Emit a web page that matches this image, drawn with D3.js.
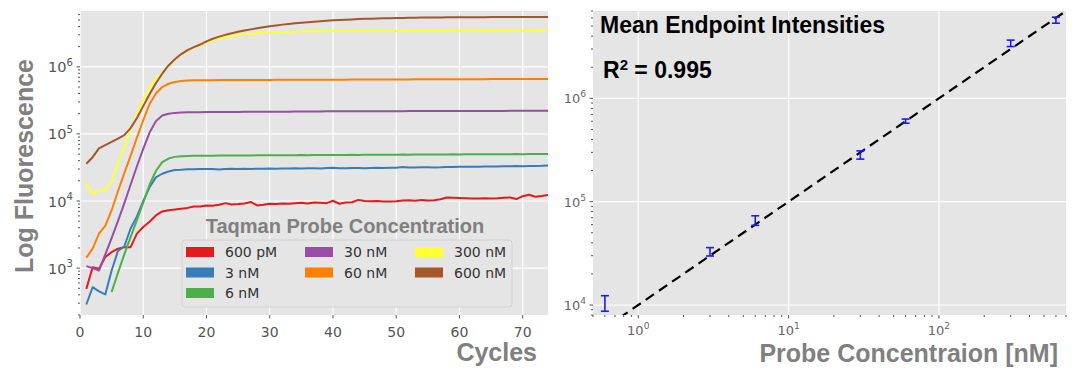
<!DOCTYPE html>
<html>
<head>
<meta charset="utf-8">
<script src="https://cdnjs.cloudflare.com/ajax/libs/d3/7.8.5/d3.min.js"></script>
<style>
  body { margin: 0; background: #fff; }
  svg text { font-family: "DejaVu Sans", sans-serif; }
  .bold { font-family: "Liberation Sans", Arial, sans-serif !important; font-weight: bold; }
  .grid line { stroke: #fff; stroke-width: 1.2; }
  .tick-mark { stroke: #555; stroke-width: 1; }
</style>
</head>
<body>
<svg id="vis" width="1072" height="368"></svg>
<script>
// ---- left panel: amplification curves ----
const cycles = d3.range(1, 75);
const seriesNames = ["600 pM", "3 nM", "6 nM", "30 nM", "60 nM", "300 nM", "600 nM"];
const seriesColors = ["#e41a1c", "#377eb8", "#4daf4a", "#984ea3", "#ff7f00", "#ffff33", "#a65628"];

const probe600pM = [490,1030,980,1460,1730,1950,2050,2050,3260,4100,
  4900,6100,7000,7300,7500,7700,7900,8300,8300,8600,
  8500,8800,9300,8900,9000,9200,9700,8600,8800,9100,
  9000,9200,9100,9300,9400,9200,9500,9400,9300,10100,
  9100,9500,9600,10400,10000,9900,10000,9800,9800,9900,
  10200,10300,10100,10400,10200,10300,10600,11300,11200,11100,
  11000,10900,10900,11000,10900,11000,11200,11300,10700,11800,
  12400,11600,11900,12300];
const probe3nM = [287,520,450,405,920,1800,2100,3900,5900,10000,
  16000,22500,25500,27500,29000,29300,29800,29700,30000,30000,
  30100,29600,30000,30200,30000,30300,30100,30400,30200,30500,
  30400,30600,30500,30700,30600,30800,30700,30600,31000,31200,
  30800,30700,31000,31100,30900,31000,31200,31100,31300,31400,
  32200,31600,31700,31800,31900,31700,31800,32100,32200,32300,
  32400,32300,32500,32600,32800,32700,32900,33000,33200,33100,
  33300,33400,33500,33800];
const probe6nM = [null,null,null,null,440,850,1600,2900,5200,9500,
  17500,28000,38000,43000,45500,46500,47000,47200,47300,47500,
  47400,47600,47700,47600,47800,47900,47800,48000,48100,48000,
  48200,48100,48300,48200,48400,48300,48500,48400,48600,48500,
  48700,48600,48800,48700,48900,48800,49000,48900,49100,49000,
  49200,49100,49300,49200,49400,49300,49500,49400,49600,49500,
  49700,49600,49800,49700,49900,49800,50000,49900,50100,50000,
  50200,50100,50300,50200];
const probe30nM = [1070,1000,920,1600,2800,5000,9200,17500,33000,60000,
  105000,155000,188000,200000,206000,209000,210000,211000,211000,212000,
  212000,212000,213000,213000,213000,214000,214000,214000,214000,215000,
  215000,215000,215000,216000,216000,216000,216000,216000,217000,217000,
  217000,217000,217000,217000,218000,218000,218000,218000,218000,218000,
  218000,219000,219000,219000,219000,219000,219000,219000,219000,220000,
  220000,220000,220000,220000,220000,220000,220000,221000,221000,221000,
  221000,221000,221000,221000];
const probe60nM = [1430,1950,3260,4300,7300,14000,26000,47000,88000,160000,
  280000,400000,500000,560000,595000,615000,625000,630000,632000,633000,
  634000,635000,636000,636000,637000,637000,638000,638000,639000,639000,
  640000,640000,641000,641000,642000,642000,643000,643000,644000,644000,
  645000,645000,646000,646000,647000,647000,648000,648000,649000,649000,
  650000,650000,651000,651000,652000,652000,653000,653000,654000,654000,
  655000,655000,656000,656000,657000,657000,658000,658000,659000,659000,
  660000,660000,661000,661000];
const probe300nM = [18000,12900,14100,14800,19500,36000,63000,115000,195000,320000,
  490000,660000,800000,1040000,1290000,1530000,1760000,1950000,2120000,2300000,
  2500000,2650000,2780000,2880000,2970000,3050000,3120000,3180000,3230000,3270000,
  3300000,3320000,3340000,3360000,3370000,3380000,3390000,3400000,3400000,3410000,
  3410000,3410000,3420000,3420000,3420000,3420000,3430000,3430000,3430000,3430000,
  3430000,3440000,3440000,3440000,3440000,3440000,3440000,3450000,3450000,3450000,
  3450000,3450000,3450000,3450000,3450000,3460000,3460000,3460000,3460000,3460000,
  3460000,3460000,3460000,3460000];
const probe600nM = [36000,45000,61000,68000,76000,85000,96000,122000,173000,260000,
  390000,570000,790000,1050000,1300000,1550000,1780000,1970000,2150000,2400000,
  2620000,2820000,3000000,3170000,3330000,3480000,3620000,3760000,3900000,4030000,
  4150000,4260000,4360000,4460000,4550000,4630000,4710000,4790000,4860000,4930000,
  4990000,5050000,5100000,5150000,5200000,5230000,5260000,5290000,5320000,5350000,
  5370000,5390000,5410000,5430000,5440000,5450000,5460000,5470000,5480000,5490000,
  5500000,5500000,5510000,5510000,5520000,5520000,5520000,5530000,5530000,5530000,
  5530000,5540000,5540000,5540000];
const curves = [probe600pM, probe3nM, probe6nM, probe30nM, probe60nM, probe300nM, probe600nM];

const cycleTicks = [0, 10, 20, 30, 40, 50, 60, 70];
const fluorTicks = [1e3, 1e4, 1e5, 1e6];

// ---- right panel: endpoint intensities ----
const probeConc = [0.6, 3, 6, 30, 60, 300, 600];
const endpointMean = [10300, 32700, 65700, 283000, 600000, 3400000, 5700000];
const endpointLow = [8700, 29800, 59000, 258000, 574000, 3170000, 5330000];
const endpointHigh = [12300, 35900, 73000, 310000, 630000, 3660000, 6100000];
const fitCoef = [1.0e4, 1.0];   // y = a * x^b
const rSquared = "0.995";
const concTicks = [1, 10, 100];
const endTicks = [1e4, 1e5, 1e6];

function drawChart() {
  const svg = d3.select("svg#vis");
  const L = { x0: 80, x1: 548, y0: 11, y1: 315 };
  const R = { x0: 593, x1: 1066, y0: 11, y1: 315 };

  // minor log ticks between two limits
  function minorTicks(lo, hi) {
    const out = [];
    for (let e = Math.floor(Math.log10(lo)); e <= Math.ceil(Math.log10(hi)); e++) {
      for (let m = 2; m <= 9; m++) {
        const v = m * Math.pow(10, e);
        if (v >= lo && v <= hi) out.push(v);
      }
    }
    return out;
  }

  function powLabel(sel, exp, size) {
    sel.append("tspan").text("10");
    sel.append("tspan").text(exp).attr("dy", -size * 0.45).attr("font-size", size * 0.7);
  }

  // ===== left panel =====
  const x = d3.scaleLinear().domain([0, 74]).range([L.x0, L.x1]);
  const y = d3.scaleLog().domain([200, 6.8e6]).range([L.y1, L.y0]);

  const gl = svg.append("g");
  gl.append("rect").attr("x", L.x0).attr("y", L.y0)
    .attr("width", L.x1 - L.x0).attr("height", L.y1 - L.y0).attr("fill", "#e5e5e5");

  const gridL = gl.append("g").attr("class", "grid");
  gridL.selectAll("line.v").data(cycleTicks).enter().append("line")
    .attr("x1", d => x(d)).attr("x2", d => x(d)).attr("y1", L.y0).attr("y2", L.y1);
  gridL.selectAll("line.h").data(fluorTicks).enter().append("line")
    .attr("class", "h")
    .attr("x1", L.x0).attr("x2", L.x1).attr("y1", d => y(d)).attr("y2", d => y(d));

  svg.append("clipPath").attr("id", "clipL").append("rect")
    .attr("x", L.x0).attr("y", L.y0).attr("width", L.x1 - L.x0).attr("height", L.y1 - L.y0);

  const line = d3.line()
    .defined(d => d[1] != null)
    .x(d => x(d[0]))
    .y(d => y(d[1]));

  gl.append("g").attr("clip-path", "url(#clipL)")
    .selectAll("path.curve")
    .data(curves)
    .enter()
    .append("path")
    .attr("class", "curve")
    .attr("d", vals => line(cycles.map((c, i) => [c, vals[i]])))
    .attr("fill", "none")
    .attr("stroke", (d, i) => seriesColors[i])
    .attr("stroke-width", 2)
    .attr("stroke-linejoin", "round");

  // ticks
  gl.selectAll("line.xt").data(cycleTicks).enter().append("line")
    .attr("class", "tick-mark")
    .attr("x1", d => x(d)).attr("x2", d => x(d)).attr("y1", L.y1).attr("y2", L.y1 + 3.5);
  gl.selectAll("text.xt").data(cycleTicks).enter().append("text")
    .attr("x", d => x(d)).attr("y", 337).attr("text-anchor", "middle")
    .attr("font-size", 14).attr("fill", "#555").text(d => d);

  gl.selectAll("line.yt").data(fluorTicks).enter().append("line")
    .attr("class", "tick-mark")
    .attr("x1", L.x0 - 3.5).attr("x2", L.x0).attr("y1", d => y(d)).attr("y2", d => y(d));
  gl.selectAll("line.ym").data(minorTicks(200, 6.8e6)).enter().append("line")
    .attr("class", "tick-mark")
    .attr("x1", L.x0 - 2).attr("x2", L.x0).attr("y1", d => y(d)).attr("y2", d => y(d));
  gl.selectAll("text.yt").data(fluorTicks).enter().append("text")
    .attr("x", L.x0 - 7).attr("y", d => y(d) + 5.5).attr("text-anchor", "end")
    .attr("font-size", 14.5).attr("fill", "#555")
    .each(function(d) { powLabel(d3.select(this), Math.log10(d), 14.5); });

  gl.append("text").attr("class", "bold")
    .attr("transform", "translate(33,166) rotate(-90)")
    .attr("text-anchor", "middle").attr("font-size", 25).attr("fill", "#808080")
    .text("Log Fluorescence");
  gl.append("text").attr("class", "bold")
    .attr("x", 537).attr("y", 361).attr("text-anchor", "end")
    .attr("font-size", 25).attr("fill", "#808080").text("Cycles");

  // legend
  const lg = gl.append("g");
  lg.append("text").attr("class", "bold")
    .attr("x", 345).attr("y", 233).attr("text-anchor", "middle")
    .attr("font-size", 20).attr("fill", "#808080").text("Taqman Probe Concentration");
  lg.append("rect").attr("x", 182).attr("y", 240).attr("width", 330).attr("height", 67)
    .attr("rx", 3).attr("fill", "#e5e5e5").attr("stroke", "#d2d2d2");
  const colX = [186, 305, 415];
  const rowY = [252, 272.5, 293];
  const items = lg.selectAll("g.item").data(seriesNames).enter().append("g")
    .attr("transform", (d, i) => {
      const col = i < 3 ? 0 : (i < 5 ? 1 : 2);
      const row = i < 3 ? i : (i < 5 ? i - 3 : i - 5);
      return translate(colX[col], rowY[row]);
    });
  items.append("rect").attr("x", 0).attr("y", -5).attr("width", 28).attr("height", 10)
    .attr("fill", (d, i) => seriesColors[i]);
  items.append("text").attr("x", 39).attr("y", 5)
    .attr("font-size", 14).attr("fill", "#333").text(d => d);

  // ===== right panel =====
  const xr = d3.scaleLog().domain([0.5, 700]).range([R.x0, R.x1]);
  const yr = d3.scaleLog().domain([8e3, 7e6]).range([R.y1, R.y0]);

  const gr = svg.append("g");
  gr.append("rect").attr("x", R.x0).attr("y", R.y0)
    .attr("width", R.x1 - R.x0).attr("height", R.y1 - R.y0).attr("fill", "#e5e5e5");

  const gridR = gr.append("g").attr("class", "grid");
  gridR.selectAll("line.v").data(concTicks).enter().append("line")
    .attr("x1", d => xr(d)).attr("x2", d => xr(d)).attr("y1", R.y0).attr("y2", R.y1);
  gridR.selectAll("line.h").data(endTicks).enter().append("line")
    .attr("class", "h")
    .attr("x1", R.x0).attr("x2", R.x1).attr("y1", d => yr(d)).attr("y2", d => yr(d));

  svg.append("clipPath").attr("id", "clipR").append("rect")
    .attr("x", R.x0).attr("y", R.y0).attr("width", R.x1 - R.x0).attr("height", R.y1 - R.y0);

  // fitted power law
  const fitX = xr.domain();
  gr.append("path").attr("clip-path", "url(#clipR)")
    .attr("d", d3.line().x(d => xr(d)).y(d => yr(fitCoef[0] * Math.pow(d, fitCoef[1])))(fitX))
    .attr("fill", "none").attr("stroke", "#000").attr("stroke-width", 2.2)
    .attr("stroke-dasharray", "10,6");

  // error bars
  const bars = gr.selectAll("g.err").data(probeConc).enter().append("g").attr("class", "err");
  bars.append("line")
    .attr("x1", d => xr(d)).attr("x2", d => xr(d))
    .attr("y1", (d, i) => yr(endpointLow[i])).attr("y2", (d, i) => yr(endpointHigh[i]));
  bars.append("line")
    .attr("x1", d => xr(d) - 4).attr("x2", d => xr(d) + 4)
    .attr("y1", (d, i) => yr(endpointLow[i])).attr("y2", (d, i) => yr(endpointLow[i]));
  bars.append("line")
    .attr("x1", d => xr(d) - 4).attr("x2", d => xr(d) + 4)
    .attr("y1", (d, i) => yr(endpointHigh[i])).attr("y2", (d, i) => yr(endpointHigh[i]));
  bars.selectAll("line").attr("stroke", "#1a1aff").attr("stroke-width", 1.6);

  // ticks
  gr.selectAll("line.xt").data(concTicks).enter().append("line")
    .attr("class", "tick-mark")
    .attr("x1", d => xr(d)).attr("x2", d => xr(d)).attr("y1", R.y1).attr("y2", R.y1 + 3.5);
  gr.selectAll("line.xm").data(minorTicks(0.5, 700)).enter().append("line")
    .attr("class", "tick-mark")
    .attr("x1", d => xr(d)).attr("x2", d => xr(d)).attr("y1", R.y1).attr("y2", R.y1 + 2);
  gr.selectAll("text.xt").data(concTicks).enter().append("text")
    .attr("x", d => xr(d)).attr("y", 335).attr("text-anchor", "middle")
    .attr("font-size", 13).attr("fill", "#666")
    .each(function(d) { powLabel(d3.select(this), Math.round(Math.log10(d)), 13); });

  gr.selectAll("line.yt").data(endTicks).enter().append("line")
    .attr("class", "tick-mark")
    .attr("x1", R.x0 - 3.5).attr("x2", R.x0).attr("y1", d => yr(d)).attr("y2", d => yr(d));
  gr.selectAll("line.ym").data(minorTicks(8e3, 7e6)).enter().append("line")
    .attr("class", "tick-mark")
    .attr("x1", R.x0 - 2).attr("x2", R.x0).attr("y1", d => yr(d)).attr("y2", d => yr(d));
  gr.selectAll("text.yt").data(endTicks).enter().append("text")
    .attr("x", R.x0 - 7).attr("y", d => yr(d) + 5).attr("text-anchor", "end")
    .attr("font-size", 13).attr("fill", "#666")
    .each(function(d) { powLabel(d3.select(this), Math.log10(d), 13); });

  gr.append("text").attr("class", "bold")
    .attr("x", 1058).attr("y", 362).attr("text-anchor", "end")
    .attr("font-size", 25).attr("fill", "#808080").text("Probe Concentraion [nM]");

  gr.append("text").attr("class", "bold")
    .attr("x", 600).attr("y", 33).attr("font-size", 23).attr("fill", "#000")
    .text("Mean Endpoint Intensities");
  const r2 = gr.append("text").attr("class", "bold")
    .attr("x", 603).attr("y", 78).attr("font-size", 23).attr("fill", "#000");
  r2.append("tspan").text("R");
  r2.append("tspan").text("2").attr("font-size", 15).attr("dy", -8);
  r2.append("tspan").text(" = " + rSquared).attr("dy", 8);

  function translate(x, y) {
    return "translate(" + String(x) + "," + String(y) + ")";
  }
}

drawChart();
</script>
</body>
</html>
